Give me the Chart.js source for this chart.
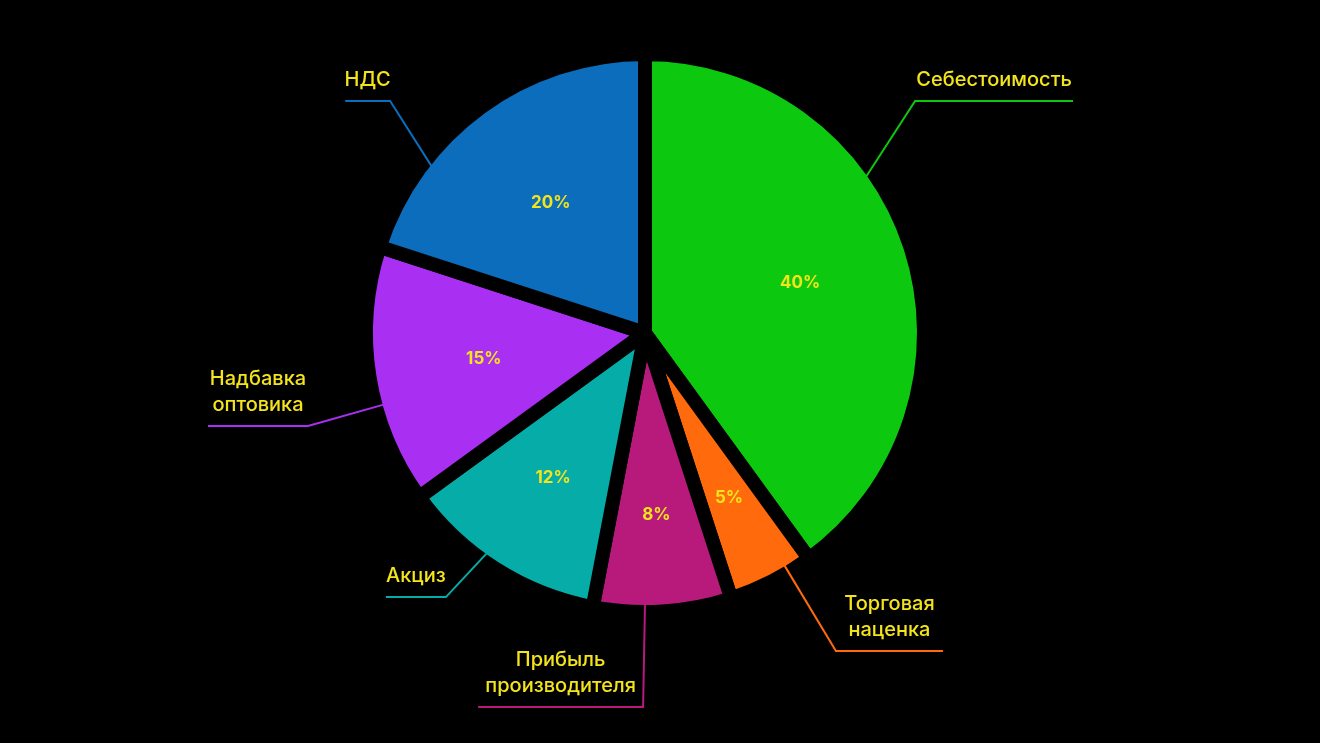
<!DOCTYPE html>
<html>
<head>
<meta charset="utf-8">
<script src="https://cdn.jsdelivr.net/npm/chart.js@4"></script>
<style>
  html, body { margin: 0; padding: 0; background: #000; }
  #wrap { width: 1320px; height: 743px; }
</style>
</head>
<body>
<div id="wrap"><canvas id="pie"></canvas></div>
<script>
// data, clockwise from 12 o'clock
const categories = [
  'Себестоимость',
  'Торговая наценка',
  'Прибыль производителя',
  'Акциз',
  'Надбавка оптовика',
  'НДС'
];
const shares = [40, 5, 8, 12, 15, 20];

// label text split into lines
const labelLines = [
  ['Себестоимость'],
  ['Торговая', 'наценка'],
  ['Прибыль', 'производителя'],
  ['Акциз'],
  ['Надбавка', 'оптовика'],
  ['НДС']
];

const COLORS = ['#0cc80f', '#ff6a0c', '#b81a7c', '#05aca8', '#a92ff2', '#0b6dbb'];
const YELLOW = '#f3e41c';
const BORDER = 14;

// leader layout: t = where along the slice the line leaves the arc,
// elbow = offset from centre in units of radius, len = horizontal run
const leaders = [
  { t: 0.38,  ex:  0.993, ey: -0.853, len:  158 },
  { t: 0.28,  ex:  0.702, ey:  1.169, len:  107 },
  { t: 0.625, ex: -0.007, ey:  1.375, len: -165 },
  { t: 0.576, ex: -0.732, ey:  0.971, len:  -60 },
  { t: 0.383, ex: -1.239, ey:  0.342, len: -100 },
  { t: 0.278, ex: -0.937, ey: -0.853, len:  -45 }
];
const pctRadius = [0.6, 0.68, 0.67, 0.63, 0.6, 0.59];

const pieLabels = {
  id: 'pieLabels',
  afterDraw(chart) {
    const ctx = chart.ctx;
    const arcs = chart.getDatasetMeta(0).data;
    ctx.save();
    arcs.forEach((arc, i) => {
      const { x, y, startAngle, endAngle, outerRadius } = arc.getProps(['x', 'y', 'startAngle', 'endAngle', 'outerRadius'], true);
      const R = outerRadius - BORDER / 2;

      // percentage inside
      const mid = (startAngle + endAngle) / 2;
      const pr = R * pctRadius[i];
      ctx.fillStyle = YELLOW;
      ctx.font = '700 17px Inter';
      ctx.textAlign = 'center';
      ctx.textBaseline = 'middle';
      ctx.fillText(shares[i] + '%', x + Math.cos(mid) * pr, y + Math.sin(mid) * pr);

      // leader line
      const L = leaders[i];
      const a = startAngle + (endAngle - startAngle) * L.t;
      const sx = x + Math.cos(a) * (R - 1);
      const sy = y + Math.sin(a) * (R - 1);
      const exx = x + L.ex * R;
      const eyy = y + L.ey * R;
      const endX = exx + L.len;
      ctx.strokeStyle = COLORS[i];
      ctx.lineWidth = 2;
      ctx.beginPath();
      ctx.moveTo(sx, sy);
      ctx.lineTo(exx, eyy);
      ctx.lineTo(endX, eyy);
      ctx.stroke();

      // category text, centred over the horizontal run
      const cx = (exx + endX) / 2;
      const lines = labelLines[i];
      ctx.font = '500 20px Inter';
      ctx.fillStyle = YELLOW;
      ctx.textBaseline = 'middle';
      lines.forEach((ln, k) => {
        const ly = eyy - 21 - (lines.length - 1 - k) * 26;
        ctx.fillText(ln, cx, ly);
      });
    });
    ctx.restore();
  }
};

new Chart(document.getElementById('pie'), {
  type: 'pie',
  data: {
    labels: categories,
    datasets: [{
      data: shares,
      backgroundColor: COLORS,
      borderColor: '#000',
      borderWidth: BORDER,
      borderJoinStyle: 'round'
    }]
  },
  options: {
    responsive: true,
    maintainAspectRatio: false,
    animation: false,
    layout: { padding: { top: 47, bottom: 124, left: 0, right: 30 } },
    plugins: {
      legend: { display: false },
      tooltip: { enabled: false }
    }
  },
  plugins: [pieLabels]
});
</script>
</body>
</html>
